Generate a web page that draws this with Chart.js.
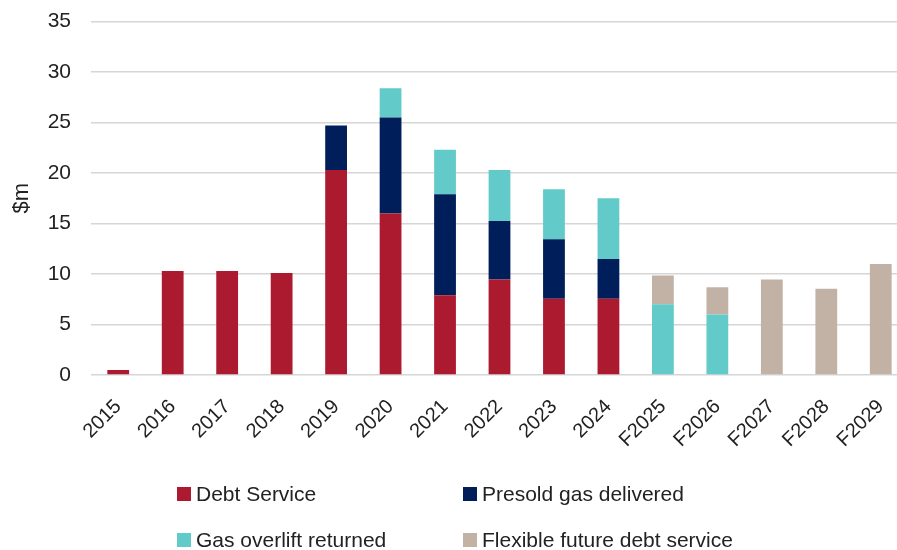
<!DOCTYPE html>
<html>
<head>
<meta charset="utf-8">
<script src="https://cdn.jsdelivr.net/npm/chart.js@4.4.1/dist/chart.umd.min.js"></script>
<style>
  html, body { margin: 0; padding: 0; background: #fff; overflow: hidden; }
  #wrap { position: relative; width: 910px; height: 471px; margin-top: -11px; }
  #legend { position: absolute; left: 0; top: 0; width: 897px; height: 550px; pointer-events: none;
            font-family: "Liberation Sans", Arial, sans-serif; font-size: 21px; color: #222; }
  .item { position: absolute; display: flex; align-items: center; white-space: nowrap; }
  .box { width: 14px; height: 14px; margin-right: 5px; }
</style>
</head>
<body>
<div id="wrap"><canvas id="myChart" width="910" height="471"></canvas></div>
<div id="legend"></div>
<script>
const years = ['2015','2016','2017','2018','2019','2020','2021','2022','2023','2024','F2025','F2026','F2027','F2028','F2029'];

const debtService = [0.5, 10.3, 10.3, 10.1, 20.3, 16.0, 7.9, 9.45, 7.55, 7.55, null, null, null, null, null];
const presoldGas  = [null, null, null, null, 4.4, 9.5, 10.0, 5.8, 5.9, 3.95, null, null, null, null, null];
const gasOverlift = [null, null, null, null, null, 2.9, 4.4, 5.05, 4.95, 6.0, 7.0, 6.0, null, null, null];
const flexibleDebt = [null, null, null, null, null, null, null, null, null, null, 2.85, 2.7, 9.45, 8.55, 11.0];

const seriesNames = ['Debt Service', 'Presold gas delivered', 'Gas overlift returned', 'Flexible future debt service'];
const seriesColors = ['#AC1A2F', '#001E5A', '#62CBC9', '#C2B2A6'];
const seriesData = [debtService, presoldGas, gasOverlift, flexibleDebt];

const yTicks = [0, 5, 10, 15, 20, 25, 30, 35];

let datasets = [];
for (let i in seriesNames) {
  datasets.push({
    label: seriesNames[i],
    data: seriesData[i],
    backgroundColor: seriesColors[i],
    borderWidth: 0,
    categoryPercentage: 1,
    barPercentage: 0.4
  });
}

const config = {
  type: 'bar',
  data: { labels: years, datasets: datasets },
  options: {
    responsive: false,
    animation: false,
    layout: { padding: { top: 10, right: 2, left: 0, bottom: 0 } },
    plugins: {
      legend: { display: false },
      tooltip: { enabled: false }
    },
    scales: {
      x: {
        stacked: true,
        grid: { display: false },
        border: { display: false },
        ticks: {
          color: '#222',
          font: { family: '"Liberation Sans", Arial, sans-serif', size: 20 },
          minRotation: 45,
          maxRotation: 45,
          padding: 12
        },
        afterFit: function(scale) { scale.height = 85; }
      },
      y: {
        stacked: true,
        min: 0,
        max: 35,
        afterBuildTicks: function(scale) { scale.ticks = yTicks.map(v => ({ value: v })); },
        grid: { color: '#d6d6d6', lineWidth: 1.5, drawTicks: false },
        border: { display: false },
        ticks: {
          color: '#222',
          font: { family: '"Liberation Sans", Arial, sans-serif', size: 21 },
          padding: 20
        },
        title: {
          display: true,
          text: '$m',
          color: '#222',
          font: { family: '"Liberation Sans", Arial, sans-serif', size: 22 },
          padding: { top: 9, bottom: 0 }
        },
        afterFit: function(scale) { scale.width = 91; }
      }
    }
  }
};

const newChart = new Chart(document.getElementById('myChart'), config);

// legend in two columns, built from the series arrays
const legendPos = [[177, 494], [463, 494], [177, 540], [463, 540]];
let legendHtml = '';
for (let i in seriesNames) {
  legendHtml += '<div class="item" style="left:' + legendPos[i][0] + 'px;top:' + (legendPos[i][1] - 12) + 'px;height:24px">';
  legendHtml += '<div class="box" style="background:' + seriesColors[i] + '"></div>';
  legendHtml += '<span>' + seriesNames[i] + '</span></div>';
}
document.getElementById('legend').innerHTML = legendHtml;
</script>
</body>
</html>
